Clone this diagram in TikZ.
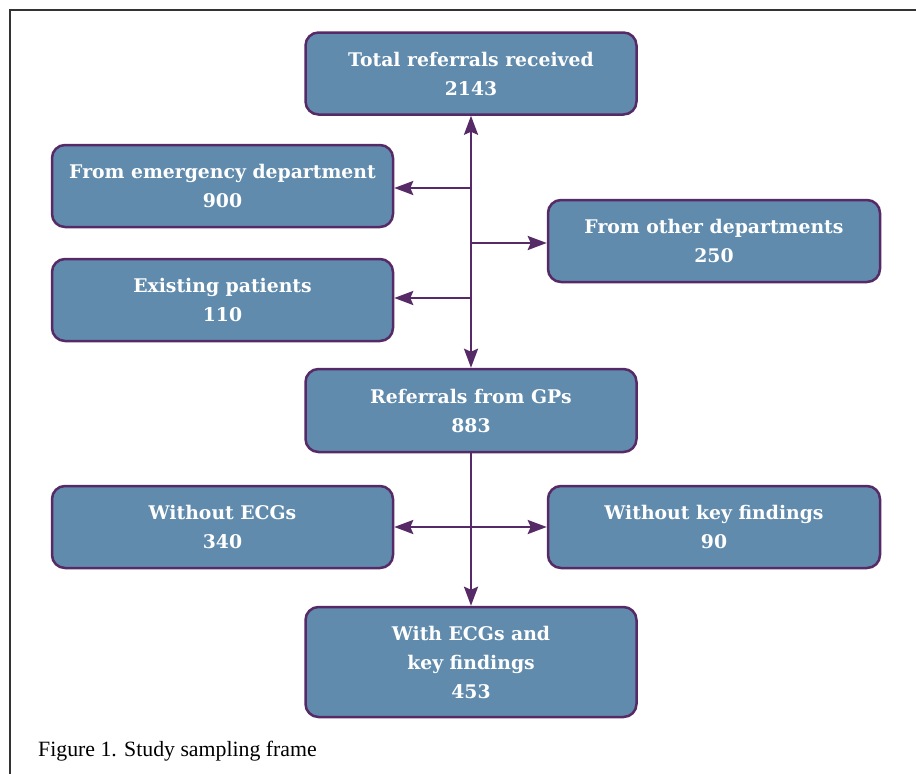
\documentclass[tikz,border=0pt]{standalone}
\usepackage{fontspec}
\setmainfont{Liberation Serif}
\newfontfamily\boxfont{DejaVu Serif}
\usetikzlibrary{arrows.meta}
\definecolor{boxfill}{HTML}{608BAD}
\definecolor{boxline}{HTML}{562A66}
\definecolor{framec}{HTML}{333333}
\tikzset{
  box/.style={draw=boxline, line width=2.5pt, fill=boxfill, rounded corners=13pt,
    text=white, align=center, inner sep=0pt,
    font=\boxfont\fontsize{18.8}{29}\selectfont\bfseries},
  wide/.style={minimum width=331pt, minimum height=82pt},
  conn/.style={draw=boxline, line width=2.5pt,
    -{Stealth[length=19pt,width=14pt,inset=3pt]}},
  conn2/.style={draw=boxline, line width=2.5pt,
    {Stealth[length=19pt,width=14pt,inset=3pt]}-{Stealth[length=19pt,width=14pt,inset=3pt]}},
}
\begin{document}
\begin{tikzpicture}[x=1pt,y=-1pt]
\useasboundingbox (0,0) rectangle (916,774);
\draw[framec, line width=1.5pt] (10,774) -- (10,10) -- (916,10);

\node[box, wide] (total) at (471,73.5) {Total referrals received\\2143};
\node[box, minimum width=341pt, minimum height=82pt] (emerg) at (222.5,186) {From emergency department\\900};
\node[box, minimum width=332pt, minimum height=82pt] (other) at (714,241) {From other departments\\250};
\node[box, minimum width=341pt, minimum height=82pt] (exist) at (222.5,300) {Existing patients\\110};
\node[box, wide, minimum height=83pt] (gp) at (471,410.5) {Referrals from GPs\\883};
\node[box, minimum width=341pt, minimum height=82pt] (noecg) at (222.5,527) {Without ECGs\\340};
\node[box, minimum width=332pt, minimum height=82pt] (nokey) at (714,527) {Without key findings\\90};
\node[box, wide, minimum height=110pt] (with) at (471,662) {With ECGs and\\key findings\\453};

\draw[conn2] (total.south) -- (gp.north);
\draw[conn] (total.south |- 0,188) coordinate (b1) -- (b1 -| emerg.east);
\draw[conn] (total.south |- 0,243) coordinate (b2) -- (b2 -| other.west);
\draw[conn] (total.south |- 0,298) coordinate (b3) -- (b3 -| exist.east);
\draw[conn] (gp.south) -- (with.north);
\draw[conn2] (noecg.east) -- (nokey.west);

\node[anchor=base west, inner sep=0pt, font=\fontsize{21.8}{25}\selectfont] (cap) at (38,756) {Figure 1. Study sampling frame};
\end{tikzpicture}
\end{document}
